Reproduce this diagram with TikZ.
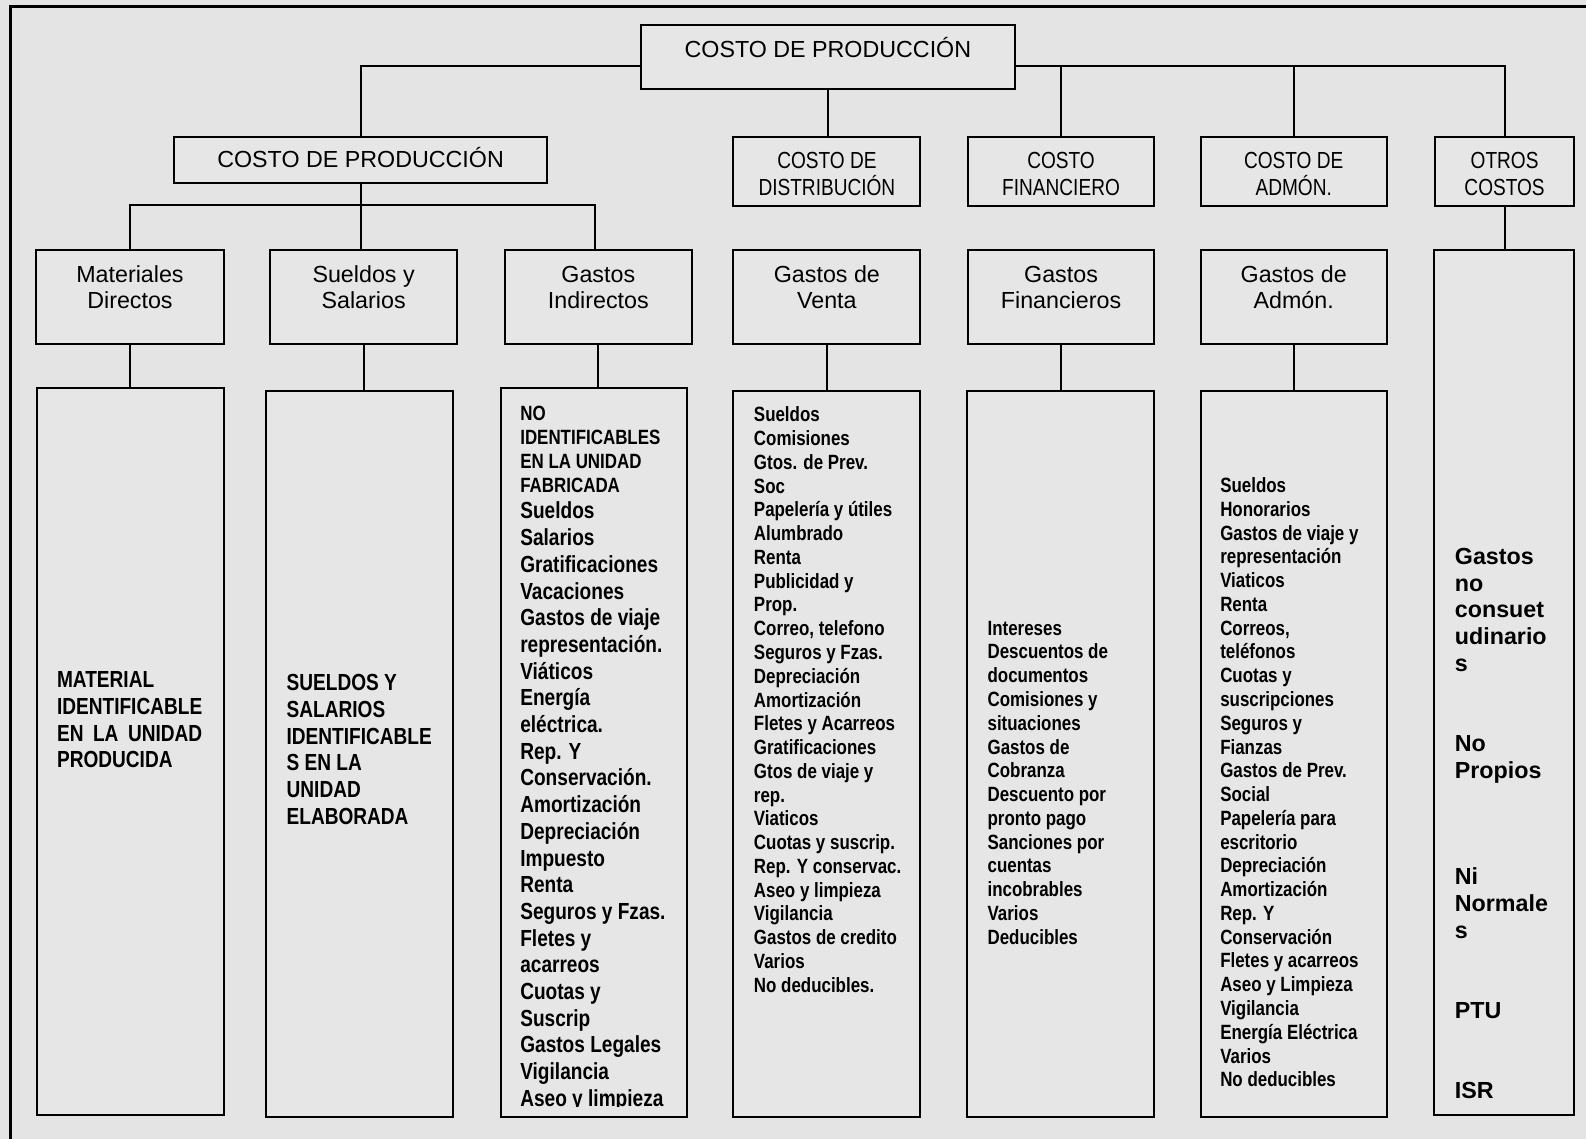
\documentclass[tikz,border=0pt]{standalone}
\usepackage{fontspec}
\setmainfont{Liberation Sans}
\newfontfamily\narrow[FakeStretch=0.82]{Liberation Sans}
\usetikzlibrary{fit}

\definecolor{bg}{HTML}{E4E4E4}
\definecolor{boxfill}{HTML}{E6E6E6}
\newlength\matw

% centred and left-aligned multi-line blocks whose base is the first baseline
\newcommand\ctext[1]{\parbox[t]{110pt}{\centering #1}}
\newcommand\ltext[1]{\parbox[t]{110pt}{\raggedright #1}}

\tikzset{
  box/.style={draw=black, line width=1pt, fill=boxfill, inner sep=0pt, outer sep=0pt},
  link/.style={draw=black, line width=1pt},
  hdr/.style={anchor=base, inner sep=0pt, font=\fontsize{11.5}{13}\selectfont},
  hdrn/.style={anchor=base, inner sep=0pt, font=\narrow\fontsize{11.5}{13}\selectfont},
  lst/.style={anchor=base west, inner sep=0pt, font=\narrow\bfseries\fontsize{10.2}{11.75}\selectfont},
  lstbig/.style={anchor=base west, inner sep=0pt, font=\narrow\bfseries\fontsize{11.5}{13.2}\selectfont},
  lstwide/.style={anchor=base west, inner sep=0pt, font=\bfseries\fontsize{11.5}{13.2}\selectfont},
}

\begin{document}
\begin{tikzpicture}[x=0.5pt, y=-0.5pt]
  \fill[bg, use as bounding box] (0,0) rectangle (1568,1126);
  % frame
  \draw[line width=1.5pt] (1568,6) -- (10,6) -- (10,1126);

  % boxes
  \node[box, fit={(634,25) (1003,88)}] (top) {};
  \node[box, fit={(172,135) (541,181)}] (cp2) {};
  \node[box, fit={(725,135) (910,204)}] (cd) {};
  \node[box, fit={(957,135) (1141,204)}] (cf) {};
  \node[box, fit={(1187,135) (1371,204)}] (ca) {};
  \node[box, fit={(1419,135) (1556,204)}] (oc) {};

  \node[box, fit={(36,247) (221,340)}] (md) {};
  \node[box, fit={(267,247) (452,340)}] (ss) {};
  \node[box, fit={(499,247) (684,340)}] (gi) {};
  \node[box, fit={(725,247) (910,340)}] (gv) {};
  \node[box, fit={(957,247) (1141,340)}] (gf) {};
  \node[box, fit={(1187,247) (1371,340)}] (ga) {};

  \node[box, fit={(37,384) (221,1102)}] (mdl) {};
  \node[box, fit={(263,387) (448,1104)}] (ssl) {};
  \node[box, fit={(495,384) (679,1104)}] (gil) {};
  \node[box, fit={(725,387) (910,1104)}] (gvl) {};
  \node[box, fit={(956,387) (1141,1104)}] (gfl) {};
  \node[box, fit={(1187,387) (1371,1104)}] (gal) {};
  \node[box, fit={(1418,247) (1556,1102)}] (ol) {};

  % connectors
  \coordinate (h1) at (0,65);
  \coordinate (h2) at (0,203);
  \coordinate (gj) at (588,247);
  \draw[link] (top.west |- h1) -| (cp2.north);
  \draw[link] (top.east |- h1) -- (oc.north |- h1) -- (oc.north);
  \draw[link] (cf.north) -- (cf.north |- h1);
  \draw[link] (ca.north) -- (ca.north |- h1);
  \draw[link] (top.south) -- (top.south |- cd.north);

  \draw[link] (cp2.south) -- (cp2.south |- ss.north);
  \draw[link] (md.north) |- (cp2.south |- h2) -| (gj);

  \draw[link] (md.south) -- (md.south |- mdl.north);
  \draw[link] (ss.south) -- (ss.south |- ssl.north);
  \draw[link] (gi.south) -- (gi.south |- gil.north);
  \draw[link] (gv.south) -- (gv.south |- gvl.north);
  \draw[link] (gf.south) -- (gf.south |- gfl.north);
  \draw[link] (ga.south) -- (ga.south |- gal.north);
  \draw[link] (oc.south) -- (oc.south |- ol.north);

  % headings
  \node[hdr] (t-top) at (818.5,57) {COSTO DE PRODUCCIÓN};
  \node[hdr] (t-cp2) at (356.5,166) {COSTO DE PRODUCCIÓN};
  \node[hdrn] (t-cd) at (817.5,167) {\ctext{COSTO DE\\DISTRIBUCIÓN}};
  \node[hdrn] (t-cf) at (1049,167) {\ctext{COSTO\\FINANCIERO}};
  \node[hdrn] (t-ca) at (1279,167) {\ctext{COSTO DE\\ADMÓN.}};
  \node[hdrn] (t-oc) at (1487.5,167) {\ctext{OTROS\\COSTOS}};

  \node[hdr] (t-md) at (128.5,279) {\ctext{Materiales\\Directos}};
  \node[hdr] (t-ss) at (359.5,279) {\ctext{Sueldos y\\Salarios}};
  \node[hdr] (t-gi) at (591.5,279) {\ctext{Gastos\\Indirectos}};
  \node[hdr] (t-gv) at (817.5,279) {\ctext{Gastos de\\Venta}};
  \node[hdr] (t-gf) at (1049,279) {\ctext{Gastos\\Financieros}};
  \node[hdr] (t-ga) at (1279,279) {\ctext{Gastos de\\Admón.}};

  % lists
  \node[lstbig] (t-mdl) at (56,680) {\ltext{\settowidth{\matw}{IDENTIFICABLE}MATERIAL\\IDENTIFICABLE\\\makebox[\matw][s]{EN LA UNIDAD}\\PRODUCIDA}};
  \node[lstbig] (t-ssl) at (283,683) {\ltext{SUELDOS Y\\SALARIOS\\IDENTIFICABLE\\S EN LA\\UNIDAD\\ELABORADA}};

  \begin{scope}
    \clip (496,385) rectangle (678,1094);
    \node[lst] (t-gil1) at (514,416) {\ltext{NO\\IDENTIFICABLES\\EN LA UNIDAD\\FABRICADA}};
    \node[lstbig] (t-gil2) at (514,513) {\ltext{Sueldos\\Salarios\\Gratificaciones\\Vacaciones\\Gastos de viaje\\representación.\\Viáticos\\Energía\\eléctrica.\\Rep. Y\\Conservación.\\Amortización\\Depreciación\\Impuesto\\Renta\\Seguros y Fzas.\\Fletes y\\acarreos\\Cuotas y\\Suscrip\\Gastos Legales\\Vigilancia\\Aseo y limpieza}};
  \end{scope}

  \node[lst] (t-gvl) at (745,417) {\ltext{Sueldos\\Comisiones\\Gtos. de Prev.\\Soc\\Papelería y útiles\\Alumbrado\\Renta\\Publicidad y\\Prop.\\Correo, telefono\\Seguros y Fzas.\\Depreciación\\Amortización\\Fletes y Acarreos\\Gratificaciones\\Gtos de viaje y\\rep.\\Viaticos\\Cuotas y suscrip.\\Rep. Y conservac.\\Aseo y limpieza\\Vigilancia\\Gastos de credito\\Varios\\No deducibles.}};

  \node[lst] (t-gfl) at (976,628) {\ltext{Intereses\\Descuentos de\\documentos\\Comisiones y\\situaciones\\Gastos de\\Cobranza\\Descuento por\\pronto pago\\Sanciones por\\cuentas\\incobrables\\Varios\\Deducibles}};

  \node[lst] (t-gal) at (1206,487) {\ltext{Sueldos\\Honorarios\\Gastos de viaje y\\representación\\Viaticos\\Renta\\Correos,\\teléfonos\\Cuotas y\\suscripciones\\Seguros y\\Fianzas\\Gastos de Prev.\\Social\\Papelería para\\escritorio\\Depreciación\\Amortización\\Rep. Y\\Conservación\\Fletes y acarreos\\Aseo y Limpieza\\Vigilancia\\Energía Eléctrica\\Varios\\No deducibles}};

  \node[lstwide] (t-ol) at (1438,558) {\ltext{Gastos\\no\\consuet\\udinario\\s\\[26.4pt]No\\Propios\\[39.6pt]Ni\\Normale\\s\\[26.4pt]PTU\\[26.4pt]ISR}};
\end{tikzpicture}
\end{document}
